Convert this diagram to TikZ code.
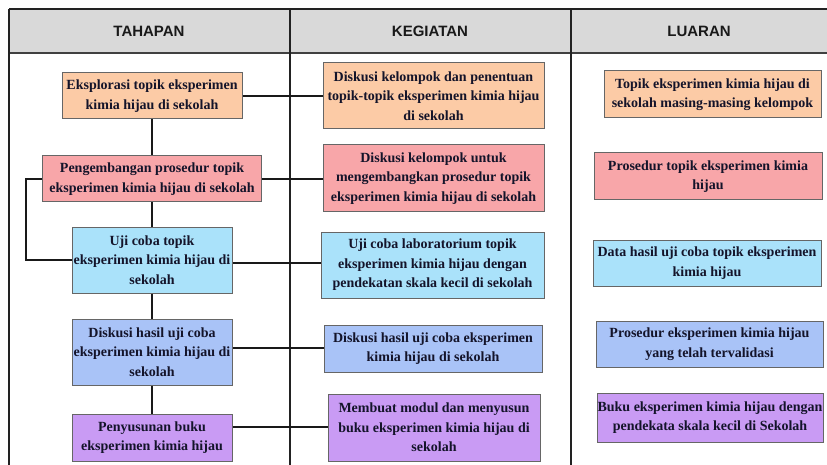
\documentclass[tikz,border=0pt]{standalone}
\usepackage{fontspec}
\setmainfont{Liberation Serif}
\newfontfamily\hdrfont{Liberation Sans}
\usetikzlibrary{calc}
\definecolor{cOrange}{HTML}{FCCBA6}
\definecolor{cRed}{HTML}{F8A6A9}
\definecolor{cBlue}{HTML}{AAE2FA}
\definecolor{cPeri}{HTML}{A9C3F7}
\definecolor{cPurple}{HTML}{C99BF4}
\definecolor{hdrfill}{HTML}{D9D9D9}
\definecolor{gridline}{HTML}{222222}
\definecolor{boxline}{HTML}{666666}
\definecolor{txtcol}{HTML}{14142A}
\tikzset{
  boxnode/.style={draw=boxline, line width=1pt, align=center, inner sep=0pt,
    text=txtcol, font=\bfseries\fontsize{14}{19.5}\selectfont},
  hdrtext/.style={font=\hdrfont\bfseries\fontsize{15}{18}\selectfont, text=black!90},
  gridln/.style={draw=gridline, line width=2pt},
  conn/.style={draw=black!90, line width=2pt}
}
\begin{document}
\begin{tikzpicture}[x=1pt,y=-1pt]
\useasboundingbox (0,0) rectangle (827,465);
% header band
\fill[hdrfill] (9,9) rectangle (827,53);
\draw[gridln] (9,9) -- (827,9);
\draw[gridln, draw=black!75] (9,53) -- (827,53);
\draw[gridln] (9,9) -- (9,465);
\draw[gridln] (290,9) -- (290,465);
\draw[gridln] (571,9) -- (571,465);
\node[hdrtext] (h1) at (149,31) {TAHAPAN};
\node[hdrtext] (h2) at (430,31) {KEGIATAN};
\node[hdrtext] (h3) at (699,31) {LUARAN};
% TAHAPAN
\node[boxnode, fill=cOrange, minimum width=180pt, minimum height=46pt] (T1) at (152,96)
  {Eksplorasi topik eksperimen\\kimia hijau di sekolah};
\node[boxnode, fill=cRed, minimum width=219pt, minimum height=46pt] (T2) at (152,179)
  {Pengembangan prosedur topik\\eksperimen kimia hijau di sekolah};
\node[boxnode, fill=cBlue, minimum width=160pt, minimum height=66pt] (T3) at (152,260)
  {Uji coba topik\\eksperimen kimia hijau di\\sekolah};
\node[boxnode, fill=cPeri, minimum width=160pt, minimum height=66pt] (T4) at (152,352)
  {Diskusi hasil uji coba\\eksperimen kimia hijau di\\sekolah};
\node[boxnode, fill=cPurple, minimum width=160pt, minimum height=47pt] (T5) at (152,437.5)
  {Penyusunan buku\\eksperimen kimia hijau};
% KEGIATAN
\node[boxnode, fill=cOrange, minimum width=221pt, minimum height=66pt] (K1) at (433.5,96)
  {Diskusi kelompok dan penentuan\\topik-topik eksperimen kimia hijau\\di sekolah};
\node[boxnode, fill=cRed, minimum width=221pt, minimum height=67pt] (K2) at (433.5,178.5)
  {Diskusi kelompok untuk\\mengembangkan prosedur topik\\eksperimen kimia hijau di sekolah};
\node[boxnode, fill=cBlue, minimum width=223pt, minimum height=66pt] (K3) at (432.5,265)
  {Uji coba laboratorium topik\\eksperimen kimia hijau dengan\\pendekatan skala kecil di sekolah};
\node[boxnode, fill=cPeri, minimum width=218pt, minimum height=47pt] (K4) at (433,348.5)
  {Diskusi hasil uji coba eksperimen\\kimia hijau di sekolah};
\node[boxnode, fill=cPurple, minimum width=212pt, minimum height=67pt] (K5) at (434,427.5)
  {Membuat modul dan menyusun\\buku eksperimen kimia hijau di\\sekolah};
% LUARAN
\node[boxnode, fill=cOrange, minimum width=217pt, minimum height=47pt] (L1) at (712.5,94.5)
  {Topik eksperimen kimia hijau di\\sekolah masing-masing kelompok};
\node[boxnode, fill=cRed, minimum width=228pt, minimum height=47pt] (L2) at (708,176.5)
  {Prosedur topik eksperimen kimia\\hijau};
\node[boxnode, fill=cBlue, minimum width=228pt, minimum height=46pt] (L3) at (707,263)
  {Data hasil uji coba topik eksperimen\\kimia hijau};
\node[boxnode, fill=cPeri, minimum width=227pt, minimum height=46pt] (L4) at (709.5,344)
  {Prosedur eksperimen kimia hijau\\yang telah tervalidasi};
\node[boxnode, fill=cPurple, minimum width=226pt, minimum height=49pt] (L5) at (710,417.5)
  {Buku eksperimen kimia hijau dengan\\pendekata skala kecil di Sekolah};
% connectors
\coordinate (lx) at (26,0);
\draw[conn] (T1.south) -- (T2.north);
\draw[conn] (T2.south) -- (T3.north);
\draw[conn] (T3.south) -- (T4.north);
\draw[conn] (T4.south) -- (T5.north);
\draw[conn] (T1.east) -- (K1.west);
\draw[conn] (T2.east) -- (T2.east -| K2.west);
\draw[conn] (T3.east |- 0,263) -- (K3.west |- 0,263);
\draw[conn] (T4.east |- 0,348) -- (K4.west |- 0,348);
\draw[conn] (T5.east |- 0,427) -- (K5.west |- 0,427);
\draw[conn] (T2.west) -- (T2.west -| lx) |- (T3.west);
\end{tikzpicture}
\end{document}
